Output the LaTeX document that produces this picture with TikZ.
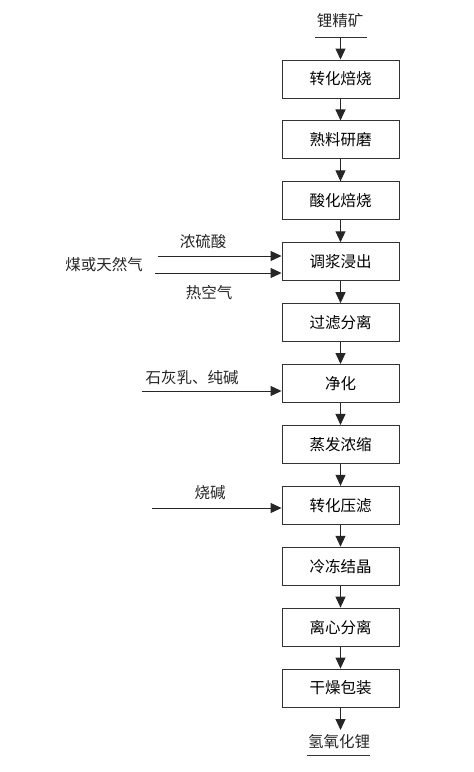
\documentclass[tikz,border=0pt]{standalone}
\usepackage{fontspec}
\setmainfont{Noto Sans CJK SC}
\usetikzlibrary{arrows.meta}
\begin{document}
\begin{tikzpicture}[x=1pt,y=-1pt,
  box/.style={draw=black!80, line width=0.9pt, minimum width=117pt, minimum height=38pt, inner sep=0pt, font=\fontsize{15.5}{15.5}\selectfont},
  lbl/.style={font=\fontsize{15.5}{15.5}\selectfont, inner sep=0pt, text=black!85},
  flow/.style={draw=black!85, line width=1pt, -{Triangle[length=11pt,width=10pt]}},
  rule/.style={draw=black!80, line width=1pt}]
\useasboundingbox (0,0) rectangle (474,772);
% main chain
\node[box] (b1)  at (340.5,79.0)  {转化焙烧};
\node[box] (b2)  at (340.5,139.9) {熟料研磨};
\node[box] (b3)  at (340.5,200.8) {酸化焙烧};
\node[box] (b4)  at (340.5,261.7) {调浆浸出};
\node[box] (b5)  at (340.5,322.6) {过滤分离};
\node[box] (b6)  at (340.5,383.5) {净化};
\node[box] (b7)  at (340.5,444.4) {蒸发浓缩};
\node[box] (b8)  at (340.5,505.3) {转化压滤};
\node[box] (b9)  at (340.5,566.2) {冷冻结晶};
\node[box] (b10) at (340.5,627.1) {离心分离};
\node[box] (b11) at (340.5,688.0) {干燥包装};
\foreach \a/\b in {b1/b2,b2/b3,b3/b4,b4/b5,b5/b6,b6/b7,b7/b8,b8/b9,b9/b10,b10/b11}
  \draw[flow] (\a.south) -- (\b.north);
% source
\node[lbl] (src) at (340,21) {锂精矿};
\coordinate (srcl) at (315,37);
\coordinate (srcr) at (367,37);
\coordinate (srctop) at (340.5,37);
\draw[rule] (srcl) -- (srcr);
\draw[flow] (srctop) -- (b1.north);
% product
\coordinate (prodtop) at (340.5,730);
\draw[flow] (b11.south) -- (prodtop);
\node[lbl] (prod) at (339,742) {氢氧化锂};
\coordinate (prodl) at (307,755);
\coordinate (prodr) at (370,755);
\draw[rule] (prodl) -- (prodr);
% side inputs to b4
\node[lbl] (acid) at (203,242) {浓硫酸};
\node[lbl] (fuel) at (104,265) {煤或天然气};
\node[lbl] (air)  at (209,293) {热空气};
\coordinate (a1) at (158,256);
\coordinate (a2) at (155,273);
\draw[flow] (a1) -- (a1 -| b4.west);
\draw[flow] (a2) -- (a2 -| b4.west);
% side input to b6
\node[lbl] (lime) at (192,378) {石灰乳、纯碱};
\coordinate (a3) at (142,391);
\draw[flow] (a3) -- (a3 -| b6.west);
% side input to b8
\node[lbl] (naoh) at (210,493) {烧碱};
\coordinate (a4) at (152,508);
\draw[flow] (a4) -- (a4 -| b8.west);
\end{tikzpicture}
\end{document}
